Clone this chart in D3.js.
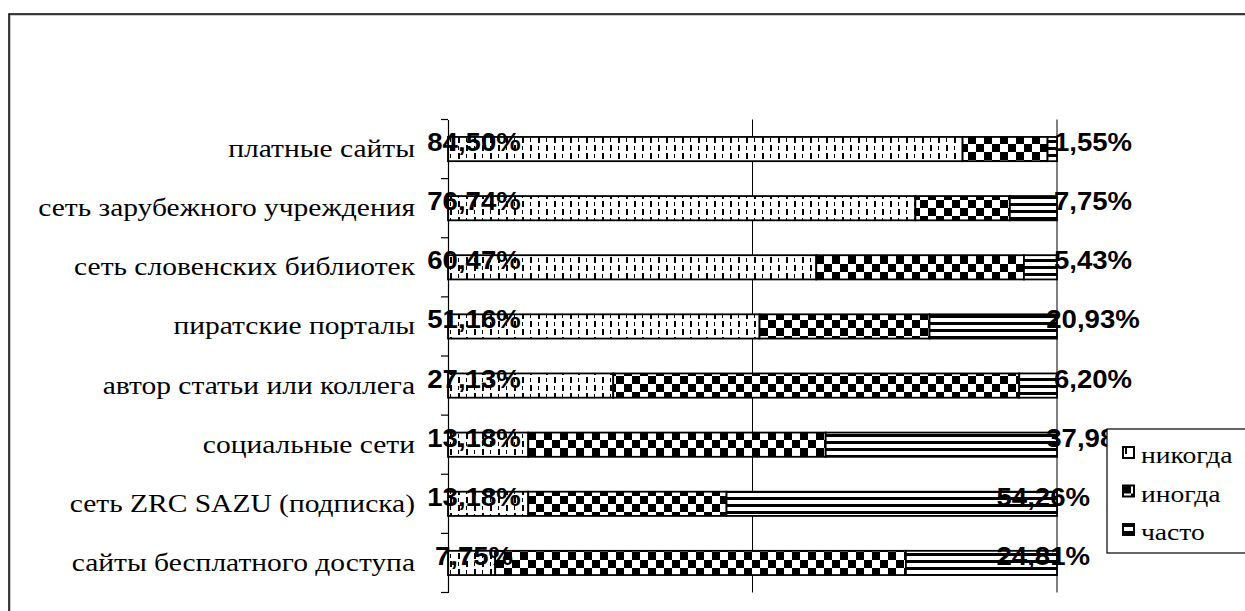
<!DOCTYPE html>
<html><head><meta charset="utf-8">
<script src="https://cdn.jsdelivr.net/npm/d3@7"></script>
<style>body{margin:0;background:#fff;}svg{display:block;}</style>
</head><body>
<svg id="chart" width="1245" height="611"></svg>
<script>
const categories = ["платные сайты","сеть зарубежного учреждения","сеть словенских библиотек","пиратские порталы","автор статьи или коллега","социальные сети","сеть ZRC SAZU (подписка)","сайты бесплатного доступа"];
const seriesNames = ["никогда","иногда","часто"];
const never = [84.50,76.74,60.47,51.16,27.13,13.18,13.18,7.75];
const sometimes = [13.95,15.51,34.10,27.91,66.67,48.84,32.56,67.44];
const often = [1.55,7.75,5.43,20.93,6.20,37.98,54.26,24.81];
const neverLabels = ["84,50%","76,74%","60,47%","51,16%","27,13%","13,18%","13,18%","7,75%"];
const oftenLabels = ["1,55%","7,75%","5,43%","20,93%","6,20%","37,98%","54,26%","24,81%"];
const gridTicks = [0,50,100];

const svg = d3.select("#chart");
const defs = svg.append("defs");
// patterns
const pN = defs.append("pattern").attr("id","pNever").attr("patternUnits","userSpaceOnUse").attr("width",16).attr("height",16);
pN.append("rect").attr("width",16).attr("height",16).attr("fill","#fff");
[[2,1,2,6],[10,9,2,6],[10,2,1,4],[2,10,1,4]].forEach(r=>
  pN.append("rect").attr("x",r[0]).attr("y",r[1]).attr("width",r[2]).attr("height",r[3]).attr("fill","#000"));
const pS = defs.append("pattern").attr("id","pSome").attr("patternUnits","userSpaceOnUse").attr("width",16).attr("height",16);
pS.append("rect").attr("width",16).attr("height",16).attr("fill","#fff");
pS.append("rect").attr("x",0).attr("y",0).attr("width",8).attr("height",8).attr("fill","#000");
pS.append("rect").attr("x",8).attr("y",8).attr("width",8).attr("height",8).attr("fill","#000");
const pO = defs.append("pattern").attr("id","pOften").attr("patternUnits","userSpaceOnUse").attr("width",8).attr("height",7);
pO.append("rect").attr("width",8).attr("height",7).attr("fill","#fff");
pO.append("rect").attr("x",0).attr("y",0).attr("width",8).attr("height",3).attr("fill","#000");
const fills = ["url(#pNever)","url(#pSome)","url(#pOften)"];

// outer frame
svg.append("rect").attr("x",10).attr("y",15).attr("width",1300).attr("height",700).attr("fill","none").attr("stroke","#999").attr("stroke-width",1);
svg.append("rect").attr("x",9).attr("y",14).attr("width",1300).attr("height",700).attr("fill","none").attr("stroke","#000").attr("stroke-width",1.5);

const x = d3.scaleLinear().domain([0,100]).range([448,1057]);
const y = d3.scaleBand().domain(categories).range([119.5,592.5]).padding(0);
const barH = y.bandwidth()*0.41;
const cy = d => y(d)+y.bandwidth()/2;

const table = categories.map((c,i)=>({cat:c,"никогда":never[i],"иногда":sometimes[i],"часто":often[i]}));
const stack = d3.stack().keys(seriesNames)(table);

// gridlines
svg.append("g").selectAll("line").data(gridTicks.slice(1)).join("line")
  .attr("x1",d=>x(d)).attr("x2",d=>x(d)).attr("y1",119.5).attr("y2",592.5)
  .attr("stroke","#000").attr("stroke-width",1);

// bars
svg.append("g").selectAll("g").data(stack).join("g")
  .attr("fill",(d,i)=>fills[i])
  .selectAll("rect").data(d=>d).join("rect")
  .attr("x",d=>x(d[0])).attr("width",d=>x(d[1])-x(d[0]))
  .attr("y",d=>cy(d.data.cat)-barH/2).attr("height",barH)
  .attr("stroke","#000").attr("stroke-width",1.8);

// y axis
const yAxis = d3.axisLeft(y).tickSize(0).tickFormat("");
const ax = svg.append("g").attr("transform","translate(448,0)").call(yAxis);
ax.select(".domain").attr("stroke","#000").attr("stroke-width",1.2);
svg.append("g").selectAll("line").data(d3.range(categories.length+1)).join("line")
  .attr("x1",441).attr("x2",448)
  .attr("y1",i=>119.5+i*y.step()).attr("y2",i=>119.5+i*y.step())
  .attr("stroke","#000").attr("stroke-width",1.2);

// category labels
const serif = "Liberation Serif, Times New Roman, serif";
svg.append("g").selectAll("text").data(categories).join("text")
  .attr("transform",d=>`translate(415,${cy(d)+8}) scale(1.18,1)`)
  .attr("text-anchor","end").attr("font-family",serif)
  .attr("font-size",25).attr("fill","#000").text(d=>d);

// value labels
const lblFont = "Liberation Sans, Arial, sans-serif";
svg.append("g").selectAll("text").data(categories).join("text")
  .attr("transform",d=>`translate(474,${cy(d)+2}) scale(1.06,1)`)
  .attr("text-anchor","middle").attr("font-family",lblFont).attr("font-weight","bold")
  .attr("font-size",26).attr("fill","#000").text((d,i)=>neverLabels[i]);

// legend box geometry
const legX = 1107, legY = 429, legH = 124;
const hitsLegend = d => cy(d) > legY + 20 && cy(d) - 10 < legY + legH;
svg.append("g").selectAll("text").data(categories).join("text")
  .attr("transform",d=>hitsLegend(d) ? `translate(1090,${cy(d)+2}) scale(1.06,1)` : `translate(1093,${cy(d)+2}) scale(1.06,1)`)
  .attr("text-anchor",d=>hitsLegend(d) ? "end" : "middle").attr("font-family",lblFont).attr("font-weight","bold")
  .attr("font-size",26).attr("fill","#000").text((d,i)=>oftenLabels[i]);

// legend
const lg = svg.append("g");
lg.append("rect").attr("x",legX).attr("y",legY).attr("width",150).attr("height",legH).attr("fill","#fff").attr("stroke","#000").attr("stroke-width",1.2);
const li = lg.selectAll("g").data(seriesNames).join("g")
  .attr("transform",(d,i)=>`translate(1123,${447+i*38.5})`);
li.append("rect").attr("width",11).attr("height",11).attr("fill",(d,i)=>fills[i]).attr("stroke","#000").attr("stroke-width",2);
li.append("text").attr("transform","translate(18,16) scale(1.2,1)").attr("font-family",serif)
  .attr("font-size",23).attr("fill","#000").text(d=>d);
</script>
</body></html>
